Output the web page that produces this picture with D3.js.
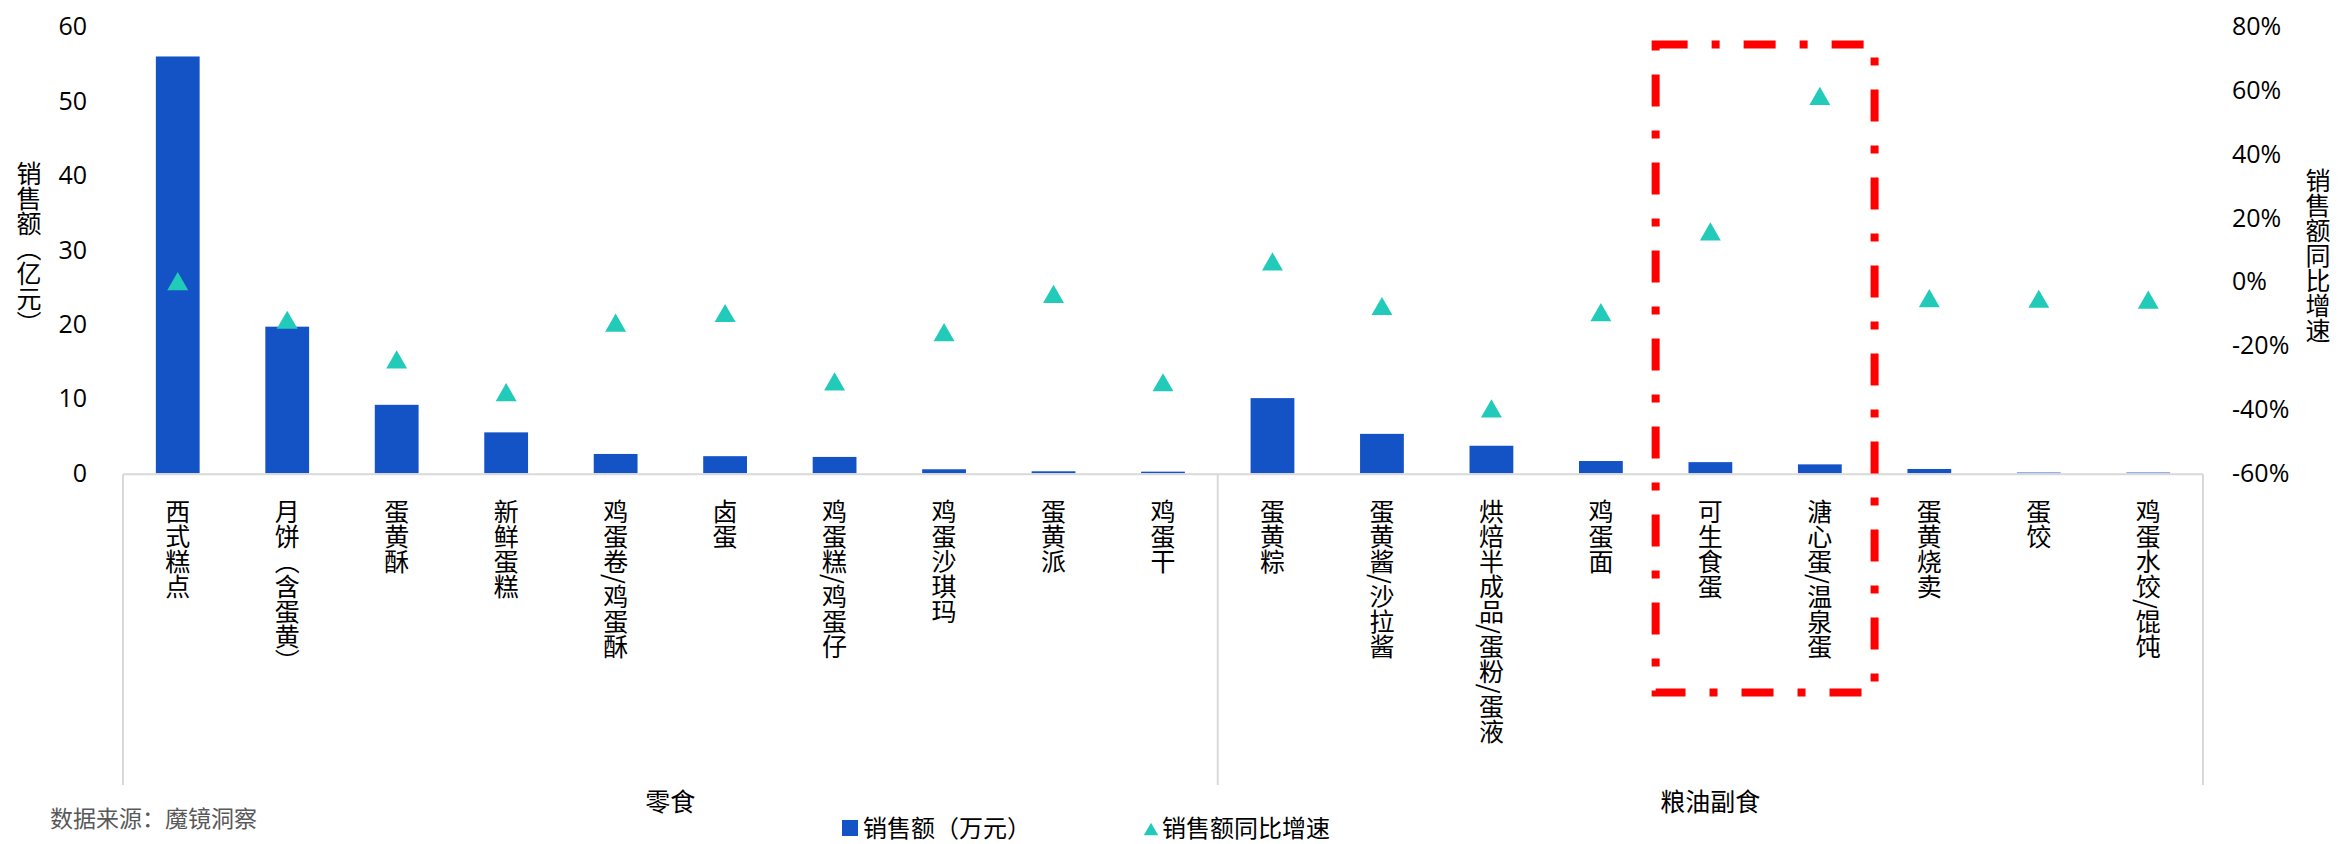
<!DOCTYPE html>
<html>
<head>
<meta charset="utf-8">
<script src="https://cdn.jsdelivr.net/npm/d3@7"></script>
<style>
  html, body { margin: 0; padding: 0; background: #fff; }
  svg { display: block; }
  .vtext { writing-mode: vertical-rl; }
</style>
</head>
<body>
<div id="chart"></div>
<script>
// Data
const categories = ['西式糕点', '月饼（含蛋黄）', '蛋黄酥', '新鲜蛋糕', '鸡蛋卷/鸡蛋酥', '卤蛋', '鸡蛋糕/鸡蛋仔',
  '鸡蛋沙琪玛', '蛋黄派', '鸡蛋干', '蛋黄粽', '蛋黄酱/沙拉酱', '烘焙半成品/蛋粉/蛋液', '鸡蛋面',
  '可生食蛋', '溏心蛋/温泉蛋', '蛋黄烧卖', '蛋饺', '鸡蛋水饺/馄饨'];
const sales = [56.0, 19.7, 9.2, 5.5, 2.6, 2.3, 2.2, 0.54, 0.27, 0.22, 10.1, 5.3, 3.7, 1.65, 1.5, 1.2, 0.58, 0.1, 0.1];
const growth = [-0.4, -12.5, -24.9, -35.2, -13.4, -10.4, -31.8, -16.4, -4.4, -32.1, 5.8, -8.2, -40.3, -10.1, 15.2, 57.7, -5.7, -5.9, -6.2];
const groupNames = ['零食', '粮油副食'];
const groupSizes = [10, 9];
const leftTicks = [0, 10, 20, 30, 40, 50, 60];
const rightTicks = [-60, -40, -20, 0, 20, 40, 60, 80];
const highlighted = ['可生食蛋', '溏心蛋/温泉蛋'];

const W = 2339, H = 844;
const plot = { left: 123, right: 2203, top: 26.7, bottom: 473.3 };
const BAR = '#1453C5', TRI = '#22CBB9', GRID = '#d9d9d9';
const CJK = '"Noto Sans CJK SC", "Microsoft YaHei", sans-serif';
const NUM = '"Open Sans", "Noto Sans", sans-serif';

const svg = d3.select('#chart').append('svg')
  .attr('width', W).attr('height', H)
  .attr('viewBox', `0 0 ${W} ${H}`);

const x = d3.scaleBand().domain(categories)
  .range([plot.left, plot.right]).paddingInner(0.6).paddingOuter(0.3);
const yL = d3.scaleLinear().domain([0, 60]).range([plot.bottom, plot.top]);
const yR = d3.scaleLinear().domain([-60, 80]).range([plot.bottom, plot.top]);

// Left axis
const axL = svg.append('g').attr('transform', `translate(${plot.left},0)`)
  .call(d3.axisLeft(yL).tickValues(leftTicks).tickSize(0).tickPadding(36));
// Right axis
const axR = svg.append('g').attr('transform', `translate(${plot.right},0)`)
  .call(d3.axisRight(yR).tickValues(rightTicks).tickSize(0).tickPadding(29).tickFormat(d => d + '%'));
[axL, axR].forEach(ax => {
  ax.select('.domain').remove();
  ax.selectAll('text').attr('fill', '#000').attr('font-size', 25).attr('font-family', NUM);
});

// Axis titles (vertical)
svg.append('text').attr('class', 'vtext')
  .attr('x', 29).attr('y', 248).attr('text-anchor', 'middle')
  .attr('font-size', 25).attr('font-family', CJK).attr('fill', '#000')
  .text('销售额（亿元）');
svg.append('text').attr('class', 'vtext')
  .attr('x', 2318).attr('y', 255).attr('text-anchor', 'middle')
  .attr('font-size', 25).attr('font-family', CJK).attr('fill', '#000')
  .text('销售额同比增速');

// Bars
svg.append('g').selectAll('rect').data(categories).join('rect')
  .attr('x', d => x(d))
  .attr('width', x.bandwidth())
  .attr('y', (d, i) => yL(sales[i]))
  .attr('height', (d, i) => yL(0) - yL(sales[i]))
  .attr('fill', BAR);

// Category axis line and group dividers
svg.append('line')
  .attr('x1', plot.left).attr('x2', plot.right)
  .attr('y1', yL(0) + 1).attr('y2', yL(0) + 1)
  .attr('stroke', GRID).attr('stroke-width', 2);

const groupStarts = groupSizes.map((n, i) => d3.sum(groupSizes.slice(0, i)));
const step = x.step();
const divX = groupStarts.map(s => plot.left + s * step).concat([plot.right]);
svg.append('g').selectAll('line').data(divX).join('line')
  .attr('x1', d => d).attr('x2', d => d)
  .attr('y1', yL(0) + 1).attr('y2', 785)
  .attr('stroke', GRID).attr('stroke-width', 2);

// Category labels (vertical)
svg.append('g').selectAll('text').data(categories).join('text')
  .attr('class', 'vtext')
  .attr('x', d => x(d) + x.bandwidth() / 2)
  .attr('y', 499)
  .attr('font-size', 25).attr('font-family', CJK).attr('fill', '#000')
  .text(d => d);

// Group labels
svg.append('g').selectAll('text').data(groupNames).join('text')
  .attr('x', (d, i) => plot.left + (groupStarts[i] + groupSizes[i] / 2) * step)
  .attr('y', 802).attr('dy', '0.35em').attr('text-anchor', 'middle')
  .attr('font-size', 25).attr('font-family', CJK).attr('fill', '#000')
  .text(d => d);

// Growth markers
const tri = d3.symbol().type(d3.symbolTriangle).size(190);
svg.append('g').selectAll('path').data(categories).join('path')
  .attr('d', tri)
  .attr('transform', (d, i) => `translate(${x(d) + x.bandwidth() / 2},${yR(growth[i]) + 1})`)
  .attr('fill', TRI);

// Highlight box round the two raw-egg categories
const hx0 = x(highlighted[0]) - x.step() * x.paddingInner() / 2;
const hx1 = x(highlighted[1]) + x.bandwidth() + x.step() * x.paddingInner() / 2;
svg.append('rect')
  .attr('x', hx0).attr('y', 44.5)
  .attr('width', hx1 - hx0).attr('height', 692.5 - 44.5)
  .attr('fill', 'none').attr('stroke', '#ff0000').attr('stroke-width', 8)
  .attr('stroke-dasharray', '32 24 8 24');

// Legend
const lg = svg.append('g');
lg.append('rect').attr('x', 842).attr('y', 820).attr('width', 16).attr('height', 16).attr('fill', BAR);
lg.append('text').attr('x', 863).attr('y', 829).attr('dy', '0.35em')
  .attr('font-size', 24).attr('font-family', CJK).attr('fill', '#000').text('销售额（万元）');
lg.append('path').attr('d', d3.symbol().type(d3.symbolTriangle).size(90))
  .attr('transform', 'translate(1151,831)').attr('fill', TRI);
lg.append('text').attr('x', 1162).attr('y', 829).attr('dy', '0.35em')
  .attr('font-size', 24).attr('font-family', CJK).attr('fill', '#000').text('销售额同比增速');

// Source note
svg.append('text').attr('x', 50).attr('y', 819).attr('dy', '0.35em')
  .attr('font-size', 23).attr('font-family', CJK).attr('fill', '#595959')
  .text('数据来源：魔镜洞察');
</script>
</body>
</html>
